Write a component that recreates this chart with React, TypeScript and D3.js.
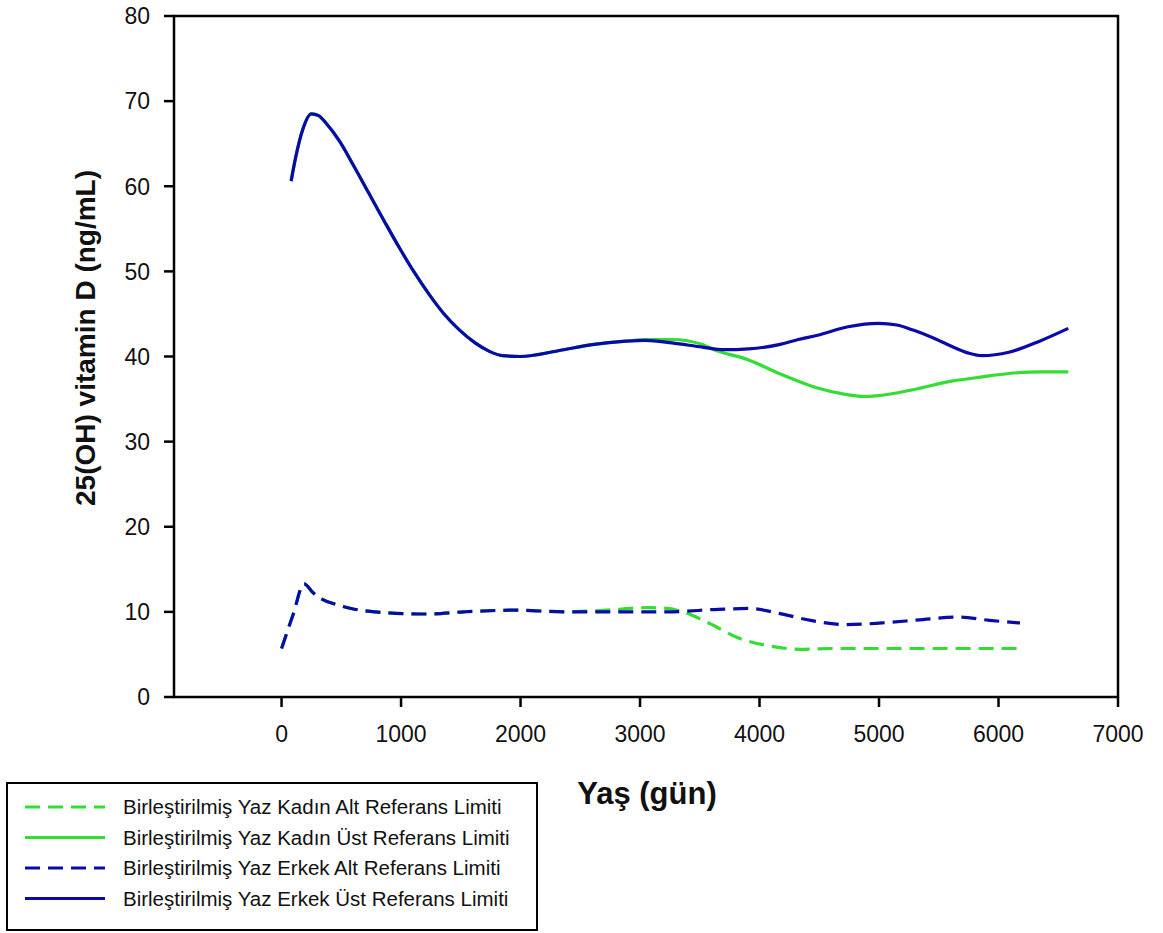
import * as d3 from 'd3';

// age in days, 25(OH)D in ng/mL
const maleUpper: [number, number][] = [
  [80, 60.6], [120, 63.5], [176, 66.6], [250, 68.5], [310, 68.3], [373, 67.4], [485, 65.3],
  [600, 62.5], [730, 59.2], [860, 55.9], [985, 52.8], [1110, 49.9], [1235, 47.3], [1360, 45.0],
  [1490, 43.1], [1620, 41.6], [1740, 40.6], [1850, 40.1], [2000, 40.0], [2325, 40.7], [2600, 41.4],
  [2883, 41.8], [3044, 41.9], [3267, 41.6], [3523, 41.1], [3700, 40.8], [3909, 40.9], [4164, 41.4],
  [4325, 42.0], [4485, 42.5], [4741, 43.5], [4997, 43.9], [5150, 43.7], [5286, 43.1], [5450, 42.2],
  [5606, 41.2], [5750, 40.4], [5863, 40.1], [6087, 40.5], [6344, 41.8], [6584, 43.3],
];

const femaleUpper: [number, number][] = [
  [80, 60.6], [120, 63.5], [176, 66.6], [250, 68.5], [310, 68.3], [373, 67.4], [485, 65.3],
  [600, 62.5], [730, 59.2], [860, 55.9], [985, 52.8], [1110, 49.9], [1235, 47.3], [1360, 45.0],
  [1490, 43.1], [1620, 41.6], [1740, 40.6], [1850, 40.1], [2000, 40.0], [2325, 40.7], [2600, 41.4],
  [2883, 41.8], [3044, 42.0], [3267, 42.0], [3523, 41.4], [3620, 40.8], [3909, 39.6], [4164, 38.0],
  [4325, 37.1], [4485, 36.3], [4741, 35.5], [4869, 35.3], [4997, 35.4], [5286, 36.1], [5606, 37.1],
  [5863, 37.6], [6087, 38.0], [6344, 38.2], [6584, 38.2],
];

const maleLower: [number, number][] = [
  [0, 5.7], [95, 9.6], [189, 13.3], [260, 12.3], [326, 11.6], [450, 10.9], [582, 10.4], [882, 9.9],
  [1224, 9.75], [1522, 10.0], [1949, 10.2], [2376, 10.0], [2803, 10.0], [3230, 10.0], [3658, 10.3],
  [3915, 10.4], [4172, 9.8], [4428, 9.0], [4727, 8.5], [5026, 8.7], [5368, 9.1], [5667, 9.4],
  [5924, 9.0], [6180, 8.7],
];

const femaleLower: [number, number][] = [
  [0, 5.7], [95, 9.6], [189, 13.3], [260, 12.3], [326, 11.6], [450, 10.9], [582, 10.4], [882, 9.9],
  [1224, 9.75], [1522, 10.0], [1949, 10.2], [2376, 10.0], [2718, 10.2], [3061, 10.5], [3230, 10.4],
  [3360, 10.0], [3574, 8.7], [3830, 6.9], [4085, 6.0], [4342, 5.6], [4599, 5.7], [5000, 5.7],
  [5500, 5.7], [6180, 5.7],
];

const xTicks = [0, 1000, 2000, 3000, 4000, 5000, 6000, 7000];
const yTicks = [0, 10, 20, 30, 40, 50, 60, 70, 80];

const GREEN = '#33dd33';
const BLUE = '#0a0aa8';

const series = [
  { label: 'Birleştirilmiş Yaz Kadın Alt Referans Limiti', data: femaleLower, color: GREEN, dashed: true },
  { label: 'Birleştirilmiş Yaz Kadın Üst Referans Limiti', data: femaleUpper, color: GREEN, dashed: false },
  { label: 'Birleştirilmiş Yaz Erkek Alt Referans Limiti', data: maleLower, color: BLUE, dashed: true },
  { label: 'Birleştirilmiş Yaz Erkek Üst Referans Limiti', data: maleUpper, color: BLUE, dashed: false },
];

const FONT = 'Arial, "Liberation Sans", sans-serif';
const DASH = '15 8';

export default function App() {
  const width = 1163;
  const height = 933;
  const x = d3.scaleLinear().domain([-900, 7000]).range([174, 1118]);
  const y = d3.scaleLinear().domain([0, 80]).range([697, 16]);

  const line = d3
    .line<[number, number]>()
    .x((d) => x(d[0]))
    .y((d) => y(d[1]))
    .curve(d3.curveMonotoneX);

  const legendX = 7;
  const legendY = 783;

  return (
    <svg
      width={width}
      height={height}
      style={{ position: 'absolute', left: 0, top: 0, background: '#fff' }}
      fontFamily={FONT}
    >
      <rect x={0} y={0} width={width} height={height} fill="#fff" />

      {series.map((s) => (
        <path
          key={s.label}
          d={line(s.data) ?? undefined}
          fill="none"
          stroke={s.color}
          strokeWidth={3.2}
          strokeDasharray={s.dashed ? DASH : undefined}
          strokeLinejoin="round"
        />
      ))}

      {/* frame */}
      <rect
        x={x(-900)}
        y={y(80)}
        width={x(7000) - x(-900)}
        height={y(0) - y(80)}
        fill="none"
        stroke="#000"
        strokeWidth={2.5}
      />

      {xTicks.map((t) => (
        <g key={t}>
          <line x1={x(t)} x2={x(t)} y1={y(0)} y2={y(0) + 10} stroke="#000" strokeWidth={2.5} />
          <text x={x(t)} y={y(0) + 45} textAnchor="middle" fontSize={23} fill="#111">
            {t}
          </text>
        </g>
      ))}

      {yTicks.map((t) => (
        <g key={t}>
          <line x1={x(-900) - 10} x2={x(-900)} y1={y(t)} y2={y(t)} stroke="#000" strokeWidth={2.5} />
          <text x={150} y={y(t)} dy="0.36em" textAnchor="end" fontSize={23} fill="#111">
            {t}
          </text>
        </g>
      ))}

      <text
        transform="translate(95,338) rotate(-90)"
        textAnchor="middle"
        fontSize={28}
        fontWeight={700}
        fill="#111"
      >
        25(OH) vitamin D (ng/mL)
      </text>

      <text x={647} y={804} textAnchor="middle" fontSize={31} fontWeight={700} fill="#111">
        Yaş (gün)
      </text>

      <g transform={`translate(${legendX},${legendY})`}>
        <rect x={0} y={0} width={530} height={147} fill="#fff" stroke="#000" strokeWidth={2} />
        {series.map((s, i) => (
          <g key={s.label} transform={`translate(0,${24 + i * 30.5})`}>
            <line
              x1={18}
              x2={98}
              y1={0}
              y2={0}
              stroke={s.color}
              strokeWidth={3.2}
              strokeDasharray={s.dashed ? DASH : undefined}
            />
            <text x={116} y={0} dy="0.36em" fontSize={20.5} fill="#111">
              {s.label}
            </text>
          </g>
        ))}
      </g>
    </svg>
  );
}
